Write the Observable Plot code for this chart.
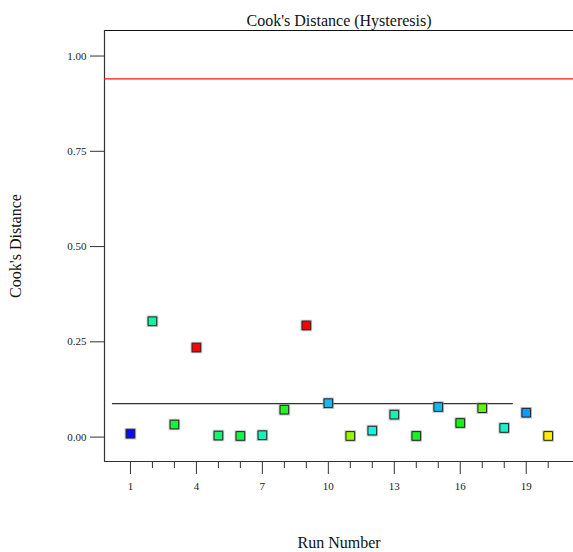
<!DOCTYPE html>
<html><head><meta charset="utf-8">
<script src="https://cdn.jsdelivr.net/npm/d3@7"></script>
<script src="https://cdn.jsdelivr.net/npm/@observablehq/plot@0.6"></script>
<style>body{margin:0;background:#fff} svg text{font-family:'Liberation Serif','Times New Roman',serif}</style>
</head><body><div id="chart"></div>
<script>
const title = "Cook's Distance (Hysteresis)";
const xLabel = "Run Number";
const yLabel = "Cook's Distance";
const runs = [1,2,3,4,5,6,7,8,9,10,11,12,13,14,15,16,17,18,19,20];
const cooks = [0.009,0.304,0.033,0.235,0.004,0.003,0.005,0.072,0.293,0.089,0.003,0.017,0.059,0.003,0.079,0.037,0.076,0.024,0.064,0.003];
const colors = ["#0a0aff","#11f5a0","#11f540","#ff0000","#11f570","#11f545","#11f5bb","#22f522","#ff0000","#11bbf0","#99f500","#11f5e0","#11f5b0","#11f522","#11bbf0","#11f511","#66f500","#11f5cc","#1199ff","#ffee00"];
const yTicks = [0, 0.25, 0.5, 0.75, 1];
const xMajorTicks = [1,4,7,10,13,16,19];
const xMinorTicks = [2,3,5,6,8,9,11,12,14,15,17,18,20];
const xDomain = [-0.18, 21.15];
const yDomain = [-0.064, 1.067];
const redLimit = 0.940;
const blackLevel = 0.088;
const blackSpan = [0.18, 18.41];

const data = runs.map((r, i) => ({run: r, d: cooks[i], c: colors[i]}));
const serif = "'Liberation Serif', 'Times New Roman', serif";

const chart = Plot.plot({
  width: 573, height: 552,
  marginLeft: 104, marginRight: 0, marginTop: 30, marginBottom: 91,
  style: {fontFamily: serif, fontSize: "11px", background: "white", color: "#222"},
  x: {domain: xDomain},
  y: {domain: yDomain},
  marks: [
    Plot.axisY({ticks: yTicks, tickSize: 14, tickPadding: 4, tickFormat: d3.format(".2f"), label: null, fontSize: 11, fontFamily: serif, stroke: "#333"}),
    Plot.axisX({ticks: xMinorTicks, tickSize: 7, tickFormat: () => "", label: null, stroke: "#333"}),
    Plot.axisX({ticks: xMajorTicks, tickSize: 13, tickPadding: 8, label: null, fontSize: 11, fontFamily: serif, stroke: "#333"}),
    Plot.ruleY([yDomain[1]], {stroke: "#111", strokeWidth: 1.2}),
    Plot.ruleY([yDomain[0]], {stroke: "#333", strokeWidth: 1.2}),
    Plot.ruleX([xDomain[0]], {stroke: "#333", strokeWidth: 1.2}),
    Plot.ruleY([redLimit], {stroke: "#ff1010", strokeWidth: 1.2}),
    Plot.ruleY([blackLevel], {x1: blackSpan[0], x2: blackSpan[1], stroke: "#333", strokeWidth: 1.2}),
    Plot.dot(data, {x: "run", y: "d", symbol: "square", r: 5.4, fill: "none", stroke: "#999", strokeOpacity: 0.6, strokeWidth: 2}),
    Plot.dot(data, {x: "run", y: "d", symbol: "square", r: 4.9, fill: "c", stroke: "#222", strokeWidth: 1}),
    Plot.text([title], {frameAnchor: "top", dy: -5, lineAnchor: "bottom", fontSize: 16, fontFamily: serif, fill: "#111"}),
    Plot.text([xLabel], {frameAnchor: "bottom", dy: 86, lineAnchor: "bottom", fontSize: 16, fontFamily: serif, fill: "#111"}),
    Plot.text([yLabel], {frameAnchor: "left", dx: -89, rotate: -90, textAnchor: "middle", lineAnchor: "middle", fontSize: 16, fontFamily: serif, fill: "#111"})
  ]
});
document.getElementById("chart").appendChild(chart);
</script>
</body></html>
